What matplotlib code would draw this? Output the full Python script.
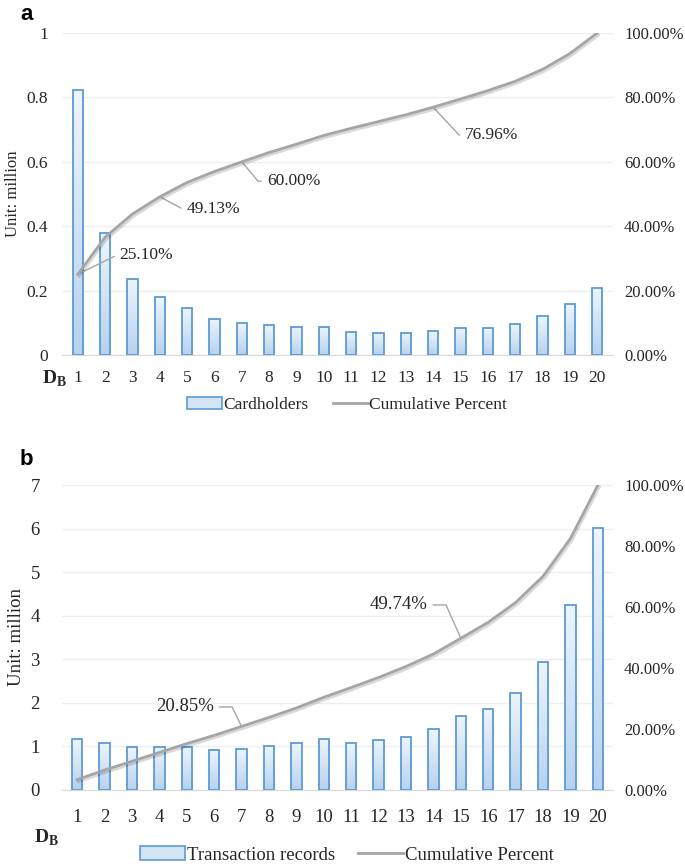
import numpy as np
import matplotlib
matplotlib.use("Agg")
import matplotlib.pyplot as plt
from matplotlib.patches import Patch
from matplotlib.lines import Line2D
from matplotlib.colors import LinearSegmentedColormap
from matplotlib.ticker import FuncFormatter
import matplotlib.patheffects as pe

# ---------------- data ----------------
categories = list(range(1, 21))

cardholders = [0.823, 0.379, 0.236, 0.180, 0.146, 0.112, 0.100, 0.093, 0.088, 0.088,
               0.072, 0.069, 0.069, 0.074, 0.085, 0.085, 0.096, 0.121, 0.159, 0.209]
cum_pct_a = [25.10, 36.6, 43.8, 49.13, 53.6, 57.0, 60.00, 62.9, 65.5, 68.2,
             70.4, 72.5, 74.6, 76.96, 79.5, 82.1, 85.0, 88.7, 93.6, 100.0]

transactions = [1.16, 1.07, 0.98, 0.99, 0.99, 0.92, 0.95, 1.01, 1.07, 1.18,
                1.09, 1.15, 1.22, 1.41, 1.70, 1.85, 2.22, 2.94, 4.24, 6.02]
cum_pct_b = [3.40, 6.53, 9.40, 12.30, 15.2, 17.9, 20.85, 23.8, 26.9, 30.4,
             33.6, 36.9, 40.5, 44.6, 49.74, 55.0, 61.5, 70.1, 82.5, 100.0]

left_ticks_a = [0, 0.2, 0.4, 0.6, 0.8, 1]
left_tick_labels_a = ["0", "0.2", "0.4", "0.6", "0.8", "1"]
left_ticks_b = [0, 1, 2, 3, 4, 5, 6, 7]
right_ticks = [0, 20, 40, 60, 80, 100]

# annotation: (category index, text offset in points, angleB)
labels_a = [(1, (30, 14), 26), (4, (19, -9), -28), (7, (18, -14), -50), (14, (23, -20), -47)]
labels_b = [(7, (-20, 14), 116), (15, (-24, 24), 114)]

# ---------------- style ----------------
SERIF = ["Liberation Serif", "DejaVu Serif"]
plt.rcParams["font.family"] = SERIF
plt.rcParams["mathtext.fontset"] = "custom"
plt.rcParams["mathtext.bf"] = "Liberation Serif:bold"
plt.rcParams["mathtext.rm"] = "Liberation Serif"

BLUE = "#5b9bd5"
LINE = "#a5a5a5"
GRID = "#efefef"
TXT = "#262626"
cmap = LinearSegmentedColormap.from_list("g", ["#b7d2ee", "#eef5fc"])

fig = plt.figure(figsize=(6.85, 8.66), dpi=100)
W, H = 685.0, 866.0


def make_panel(rect, bars_vals, cum, yticks, ytlabels, ylim, xlim, fs_tick, lpad, xpad,
               annots, fs_ylab):
    ax = fig.add_axes(rect)
    bars = ax.bar(categories, bars_vals, width=0.38, facecolor="none",
                  edgecolor=BLUE, linewidth=1.3, zorder=3)
    grad = np.linspace(0, 1, 100).reshape(-1, 1)
    for b in bars:
        x0, y0 = b.get_xy()
        im = ax.imshow(grad, extent=[x0, x0 + b.get_width(), y0, y0 + b.get_height()],
                       origin="lower", aspect="auto", cmap=cmap, zorder=2)
        im.set_clip_path(b)
    ax.set_xlim(*xlim)
    ax.set_ylim(*ylim)
    ax.set_yticks(yticks)
    ax.set_yticklabels(ytlabels)
    ax.set_xticks(categories)
    ax.set_xticklabels([str(c) for c in categories])
    ax.grid(axis="y", color=GRID, linewidth=1.0, zorder=0)
    ax.set_axisbelow(True)
    for s in ["top", "left", "right"]:
        ax.spines[s].set_visible(False)
    ax.spines["bottom"].set_color("#d9d9d9")
    ax.tick_params(axis="both", length=0, labelsize=fs_tick, colors=TXT)
    ax.tick_params(axis="y", pad=lpad)
    ax.tick_params(axis="x", pad=xpad)
    ax.set_ylabel("Unit: million", fontsize=fs_ylab, color=TXT, labelpad=4)

    axr = ax.twinx()
    axr.plot(categories, cum, color=LINE, linewidth=2.0, zorder=4,
             path_effects=[pe.SimpleLineShadow(offset=(1, -1.5), alpha=0.15), pe.Normal()])
    axr.set_ylim(0, 100)
    axr.set_yticks(right_ticks)
    axr.yaxis.set_major_formatter(FuncFormatter(lambda v, p: f"{v:.2f}%"))
    for s in ["top", "left", "right", "bottom"]:
        axr.spines[s].set_visible(False)
    axr.tick_params(axis="y", length=0, labelsize=12, colors=TXT, pad=8)

    for idx, off, angB in annots:
        xv = categories[idx - 1]
        yv = cum[idx - 1]
        ha = "left" if off[0] > 0 else "right"
        axr.annotate(f"{yv:.2f}%", xy=(xv, yv), xytext=off, textcoords="offset points",
                     ha=ha, va="center", fontsize=fs_tick, color=TXT,
                     arrowprops=dict(arrowstyle="-", color=LINE, linewidth=1.0,
                                     relpos=(0 if ha == "left" else 1, 0.5),
                                     shrinkA=2, shrinkB=0,
                                     connectionstyle=f"angle,angleA=0,angleB={angB},rad=0"))
    return ax, axr


# ---- panel a ----
ax_a, axr_a = make_panel([62 / W, 1 - 355 / H, 551 / W, 322 / H], cardholders, cum_pct_a,
                         left_ticks_a, left_tick_labels_a, (0, 1), (0.42, 20.58),
                         12.5, 10, 11, labels_a, 12)
# ---- panel b ----
ax_b, axr_b = make_panel([62 / W, 1 - 790 / H, 551 / W, 305 / H], transactions, cum_pct_b,
                         left_ticks_b, [str(t) for t in left_ticks_b], (0, 7), (0.45, 20.55),
                         13.5, 16, 14, labels_b, 13.5)

# D_B labels
fig.text(55 / W, 1 - 379 / H, r"$\mathbf{D}_{\mathbf{B}}$", ha="center", va="center",
         fontsize=14, color=TXT)
fig.text(47 / W, 1 - 838 / H, r"$\mathbf{D}_{\mathbf{B}}$", ha="center", va="center",
         fontsize=14, color=TXT)

# panel letters
fig.text(20 / W, 1 - 14 / H, "a", fontsize=16, fontweight="bold",
         family=["Liberation Sans", "DejaVu Sans"], ha="left", va="center")
fig.text(20 / W, 1 - 460 / H, "b", fontsize=16, fontweight="bold",
         family=["Liberation Sans", "DejaVu Sans"], ha="left", va="center")

# legends
def legend(label, y, fs, hl, cs):
    h = [Patch(facecolor="#d3e4f5", edgecolor=BLUE, linewidth=1.2),
         Line2D([0], [0], color=LINE, linewidth=2.0)]
    fig.legend(h, [label, "Cumulative Percent"], loc="center", bbox_to_anchor=(347 / W, y),
               ncol=2, frameon=False, fontsize=fs, handlelength=hl, handletextpad=0.1,
               columnspacing=cs, labelcolor=TXT)

legend("Cardholders", 1 - 405 / H, 12.5, 2.0, 1.4)
legend("Transaction records", 1 - 855 / H, 13.5, 2.4, 1.2)

fig.savefig("out.png", dpi=100)
